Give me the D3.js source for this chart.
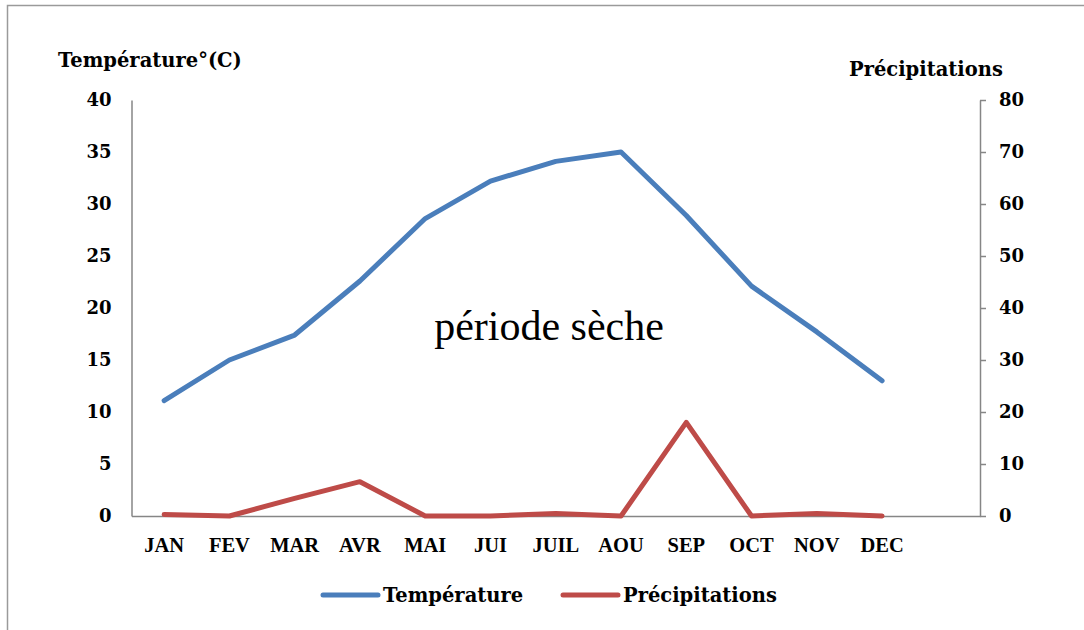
<!DOCTYPE html>
<html>
<head>
<meta charset="utf-8">
<script src="https://cdn.jsdelivr.net/npm/d3@7"></script>
<style>
  body { margin: 0; background: #fff; }
  svg { display: block; }
  .tick line { stroke: #868686; stroke-width: 1.5; }
  .domain { stroke: #868686; stroke-width: 1.5; }
</style>
</head>
<body>
<svg id="chart" width="1084" height="630"></svg>
<script>
const months = ["JAN","FEV","MAR","AVR","MAI","JUI","JUIL","AOU","SEP","OCT","NOV","DEC"];
const temperature = [11.1, 15.0, 17.4, 22.6, 28.6, 32.2, 34.1, 35.0, 28.9, 22.1, 17.7, 13.0];
const precipitation = [0.3, 0, 3.4, 6.6, 0, 0, 0.5, 0, 18.0, 0, 0.5, 0];
const leftTicks = [0, 5, 10, 15, 20, 25, 30, 35, 40];
const rightTicks = [0, 10, 20, 30, 40, 50, 60, 70, 80];
const seriesNames = ["Température", "Précipitations"];
const colors = ["#4A7EBB", "#BE4B48"];

const svg = d3.select("#chart");
const L = 131.5, R = 980, T = 100, B = 516;

// frame
svg.append("rect").attr("x", 7.5).attr("y", 5.5).attr("width", 1100).attr("height", 700)
  .attr("fill", "none").attr("stroke", "#9a9a9a").attr("stroke-width", 1.5);

const x = d3.scaleBand().domain(months.concat([""])).range([L, R]).paddingInner(0).paddingOuter(0);
const yL = d3.scaleLinear().domain([0, 40]).range([B, T]);
const yR = d3.scaleLinear().domain([0, 80]).range([B, T]);
const cx = m => x(m) + x.bandwidth() / 2;

const numFont = "'DejaVu Serif', serif";

// left axis
const gL = svg.append("g").attr("transform", `translate(${L},0)`)
  .call(d3.axisLeft(yL).tickValues(leftTicks).tickSize(0).tickPadding(20).tickSizeOuter(0));
gL.selectAll("text").attr("font-family", numFont).attr("font-weight", "bold").attr("font-size", 18).attr("fill", "#000");

// right axis
const gR = svg.append("g").attr("transform", `translate(${R},0)`)
  .call(d3.axisRight(yR).tickValues(rightTicks).tickSize(6).tickPadding(13).tickSizeOuter(0));
gR.selectAll("text").attr("font-family", numFont).attr("font-weight", "bold").attr("font-size", 18).attr("fill", "#000");

// bottom axis
const gB = svg.append("g").attr("transform", `translate(0,${B})`)
  .call(d3.axisBottom(x).tickSize(0).tickPadding(21).tickSizeOuter(0));
gB.selectAll("text").attr("font-family", "'Liberation Serif', serif").attr("font-weight", "bold")
  .attr("font-size", 20.5).attr("fill", "#000");

// lines
const lineT = d3.line().x((d, i) => cx(months[i])).y(d => yL(d));
const lineP = d3.line().x((d, i) => cx(months[i])).y(d => yR(d));
svg.append("path").datum(precipitation).attr("d", lineP).attr("fill", "none")
  .attr("stroke", colors[1]).attr("stroke-width", 5).attr("stroke-linejoin", "round").attr("stroke-linecap", "round");
svg.append("path").datum(temperature).attr("d", lineT).attr("fill", "none")
  .attr("stroke", colors[0]).attr("stroke-width", 5).attr("stroke-linejoin", "round").attr("stroke-linecap", "round");

// axis titles
svg.append("text").attr("x", 58).attr("y", 67).text("Température°(C)")
  .attr("font-family", numFont).attr("font-weight", "bold").attr("font-size", 19.5);
svg.append("text").attr("x", 849).attr("y", 76).text("Précipitations")
  .attr("font-family", numFont).attr("font-weight", "bold").attr("font-size", 19.5);

// annotation
svg.append("text").attr("x", 549).attr("y", 340).attr("text-anchor", "middle").text("période sèche")
  .attr("font-family", "'Liberation Serif', serif").attr("font-size", 42);

// legend
const legX = [323, 563];
seriesNames.forEach((n, i) => {
  svg.append("line").attr("x1", legX[i]).attr("x2", legX[i] + 55).attr("y1", 595).attr("y2", 595)
    .attr("stroke", colors[i]).attr("stroke-width", 5).attr("stroke-linecap", "round");
  svg.append("text").attr("x", legX[i] + 60).attr("y", 602).text(n)
    .attr("font-family", numFont).attr("font-weight", "bold").attr("font-size", 19.5);
});
</script>
</body>
</html>
